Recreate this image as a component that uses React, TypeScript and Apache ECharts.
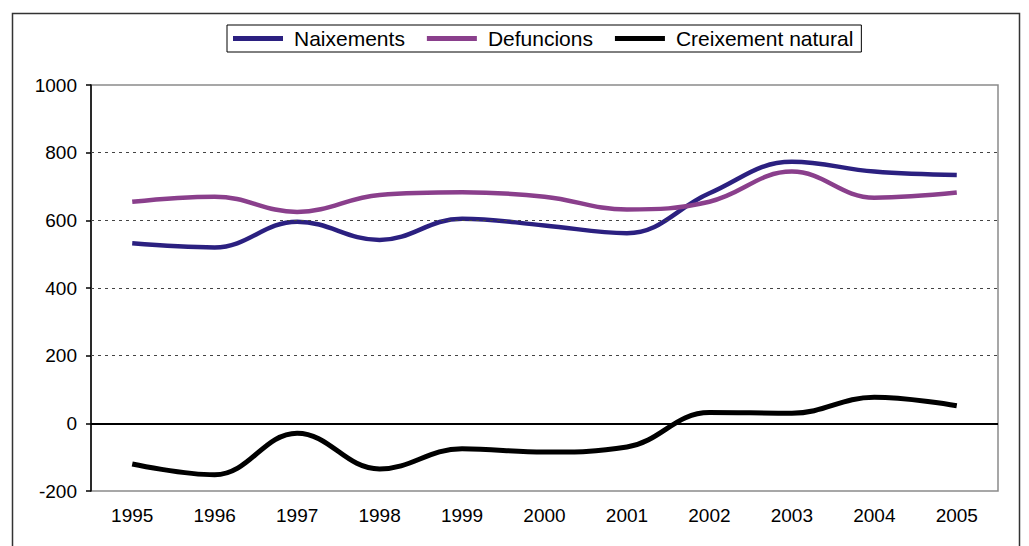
import React, { useEffect, useRef } from "react";
import * as echarts from "echarts";

const years = ["1995", "1996", "1997", "1998", "1999", "2000", "2001", "2002", "2003", "2004", "2005"];
const naixements = [532, 520, 596, 542, 605, 585, 562, 680, 773, 744, 734];
const defuncions = [655, 670, 625, 675, 683, 670, 632, 655, 744, 667, 682];
const creixement = [-120, -152, -29, -135, -75, -85, -70, 32, 30, 77, 52];
const dashedLevels = [200, 400, 600, 800];

export default function App() {
  const ref = useRef<HTMLDivElement>(null);
  useEffect(() => {
    if (!ref.current) return;
    const chart = echarts.init(ref.current, null, { renderer: "svg" });
    const font = "Arial, 'Liberation Sans', sans-serif";
    chart.setOption({
      animation: false,
      backgroundColor: "#ffffff",
      textStyle: { fontFamily: font },
      graphic: [
        {
          type: "rect",
          shape: { x: 12.5, y: 13.5, width: 1007, height: 560 },
          style: { fill: "none", stroke: "#333333", lineWidth: 1.5 },
          silent: true,
        },
      ],
      legend: {
        left: 227,
        top: 25,
        orient: "horizontal",
        borderColor: "#000000",
        borderWidth: 1,
        padding: [3, 8, 3, 6],
        itemGap: 22,
        itemWidth: 50,
        itemHeight: 5,
        icon: "rect",
        textStyle: { fontSize: 21, color: "#000000", fontFamily: font, padding: [0, 0, 0, 6] },
        data: ["Naixements", "Defuncions", "Creixement natural"],
      },
      grid: {
        left: 91,
        top: 85,
        right: 31,
        bottom: 55,
        show: true,
        borderColor: "#8a8a8a",
        borderWidth: 1.5,
        backgroundColor: "transparent",
      },
      xAxis: {
        type: "category",
        data: years,
        boundaryGap: true,
        axisLine: { show: false, onZero: false },
        axisTick: { show: false },
        axisLabel: { fontSize: 19, color: "#000000", margin: 15, fontFamily: font },
        splitLine: { show: false },
      },
      yAxis: {
        type: "value",
        min: -200,
        max: 1000,
        interval: 200,
        axisLine: { show: true, lineStyle: { color: "#000000", width: 1.5 } },
        axisTick: { show: true, length: 5, lineStyle: { color: "#000000", width: 1.5 } },
        axisLabel: {
          fontSize: 19,
          color: "#000000",
          margin: 14,
          fontFamily: font,
          formatter: (v: number) => String(v),
        },
        splitLine: { show: false },
      },
      series: [
        {
          name: "Naixements",
          type: "line",
          data: naixements,
          smooth: 0.4,
          showSymbol: false,
          symbol: "none",
          lineStyle: { color: "#2B2080", width: 4.5 },
          itemStyle: { color: "#2B2080" },
          markLine: {
            silent: true,
            symbol: ["none", "none"],
            label: { show: false },
            data: [
              ...dashedLevels.map((v) => ({
                yAxis: v,
                lineStyle: { color: "#444444", width: 1, type: [3, 4] },
              })),
              { yAxis: 0, lineStyle: { color: "#000000", width: 2, type: "solid" } },
            ],
          },
        },
        {
          name: "Defuncions",
          type: "line",
          data: defuncions,
          smooth: 0.4,
          showSymbol: false,
          symbol: "none",
          lineStyle: { color: "#8A3F8C", width: 4.5 },
          itemStyle: { color: "#8A3F8C" },
        },
        {
          name: "Creixement natural",
          type: "line",
          data: creixement,
          smooth: 0.4,
          showSymbol: false,
          symbol: "none",
          lineStyle: { color: "#000000", width: 5 },
          itemStyle: { color: "#000000" },
        },
      ],
    });
    return () => chart.dispose();
  }, []);
  return (
    <div
      ref={ref}
      style={{ position: "absolute", left: 0, top: 0, width: 1029, height: 546 }}
    />
  );
}
